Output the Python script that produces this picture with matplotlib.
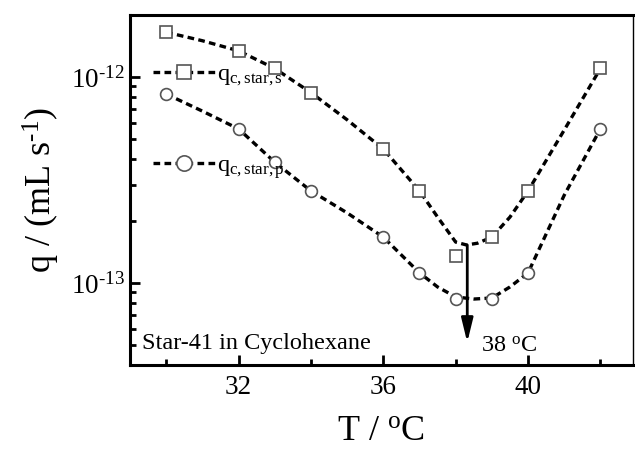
import matplotlib
matplotlib.use("Agg")
import matplotlib.pyplot as plt
from matplotlib.lines import Line2D

plt.rcParams['font.family'] = ['Liberation Serif', 'DejaVu Serif']
plt.rcParams['mathtext.fontset'] = 'custom'
plt.rcParams['mathtext.rm'] = 'Liberation Serif'
plt.rcParams['mathtext.it'] = 'Liberation Serif:italic'

# measured data
T = [30, 32, 33, 34, 36, 37, 38, 39, 40, 42]
q_s = [1.65e-12, 1.34e-12, 1.10e-12, 8.4e-13, 4.47e-13, 2.80e-13, 1.35e-13, 1.67e-13, 2.80e-13, 1.10e-12]
q_p = [8.26e-13, 5.60e-13, 3.86e-13, 2.80e-13, 1.67e-13, 1.12e-13, 8.36e-14, 8.36e-14, 1.12e-13, 5.60e-13]

# fitted curves
T_fit_s = [30, 31, 32, 33, 34, 35, 36, 37, 37.5, 38, 38.3, 38.6, 39, 39.5, 40, 41, 42]
q_fit_s = [1.65e-12, 1.50e-12, 1.34e-12, 1.10e-12, 8.4e-13, 6.2e-13, 4.47e-13, 2.80e-13,
           2.09e-13, 1.58e-13, 1.53e-13, 1.56e-13, 1.67e-13, 2.09e-13, 2.80e-13, 5.53e-13, 1.10e-12]
T_fit_p = [30, 31, 32, 33, 34, 35, 36, 37, 37.5, 38, 38.5, 39, 39.5, 40, 41, 42]
q_fit_p = [8.27e-13, 6.83e-13, 5.60e-13, 3.86e-13, 2.80e-13, 2.19e-13, 1.67e-13, 1.12e-13,
           9.57e-14, 8.56e-14, 8.36e-14, 8.46e-14, 9.57e-14, 1.12e-13, 2.67e-13, 5.60e-13]

T_theta = 38.32
arrow_top = 1.53e-13
arrow_tip = 5.15e-14

fig = plt.figure(figsize=(6.35, 4.5), dpi=100)
ax = fig.add_axes([130/635, 1 - 365/450, 503/635, 350/450])

dash = (0, (2.0, 1.3))
ax.plot(T_fit_s, q_fit_s, color='black', lw=2.4, linestyle=dash, zorder=2)
ax.plot(T_fit_p, q_fit_p, color='black', lw=2.4, linestyle=dash, zorder=2)
ax.plot(T, q_s, linestyle='none', marker='s', ms=8, mfc='white', mec='#555555', mew=1.2, zorder=3)
ax.plot(T, q_p, linestyle='none', marker='o', ms=8.5, mfc='white', mec='#555555', mew=1.2, zorder=3)

ax.set_yscale('log')
ax.set_xlim(29, 42.9)
ax.set_ylim(4e-14, 2e-12)

ax.set_xticks([32, 36, 40])
ax.set_xticks([30, 34, 38, 42], minor=True)
ax.set_xticklabels(['32', '36', '40'])
ax.set_yticks([1e-13, 1e-12])
ax.set_yticklabels([r'$10^{\text{-}13}$', r'$10^{\text{-}12}$'])

ax.tick_params(axis='both', which='major', direction='in', length=7, width=2, labelsize=19.5)
ax.tick_params(axis='both', which='minor', direction='in', length=4.5, width=2)
ax.tick_params(axis='x', which='both', top=False, pad=7)
ax.tick_params(axis='y', which='both', right=False, pad=4)
ax.yaxis.set_minor_formatter(matplotlib.ticker.NullFormatter())

for s in ['left', 'bottom', 'top']:
    ax.spines[s].set_linewidth(2.2)
ax.spines['right'].set_linewidth(1.0)

ax.set_xlabel(r'T / $^{\rm o}$C', fontsize=26, labelpad=11)
ax.set_ylabel(r'q / (mL s$^{\text{-}1}$)', fontsize=26, labelpad=6)

# legend
h1 = Line2D([], [], color='black', lw=2.4, linestyle=dash, marker='s', ms=10,
            mfc='white', mec='#555555', mew=1.2)
h2 = Line2D([], [], color='black', lw=2.4, linestyle=dash, marker='o', ms=11,
            mfc='white', mec='#555555', mew=1.2)
ax.legend([h1, h2], [r'q$_{\rm c,star,s}$', r'q$_{\rm c,star,p}$'],
          loc='upper left', bbox_to_anchor=(0.045, 0.862), frameon=False,
          fontsize=17.5, numpoints=1, handlelength=2.6, handletextpad=0.05,
          labelspacing=2.75, borderpad=0, borderaxespad=0)

ax.text(0.024, 0.045, 'Star-41 in Cyclohexane', transform=ax.transAxes, fontsize=17.5,
        ha='left', va='baseline')
ax.text(38.7, 4.65e-14, r'38 $^{\rm o}$C', fontsize=17.5, ha='left', va='baseline')

ax.annotate('', xy=(T_theta, arrow_tip), xytext=(T_theta, arrow_top),
            arrowprops=dict(arrowstyle='-|>,head_length=0.9,head_width=0.22',
                            lw=2, color='black', mutation_scale=16,
                            shrinkA=0, shrinkB=0))

fig.savefig('out.png', dpi=100)
